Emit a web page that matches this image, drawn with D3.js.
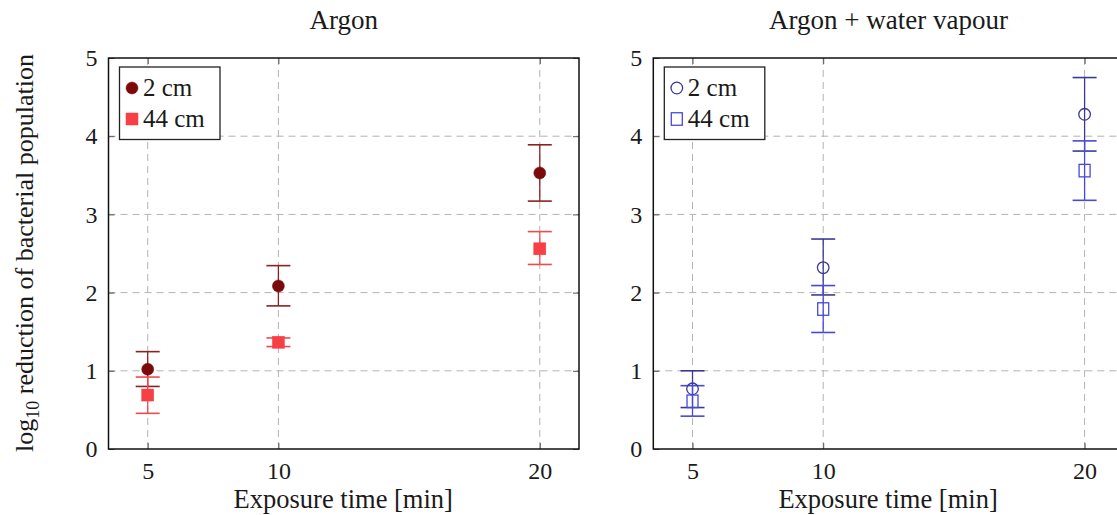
<!DOCTYPE html>
<html>
<head>
<meta charset="utf-8">
<script src="https://cdn.jsdelivr.net/npm/d3@7"></script>
<style>
  html, body { margin: 0; padding: 0; background: #fff; }
  svg { display: block; }
  text { font-family: "Liberation Serif", "DejaVu Serif", serif; fill: #1a1a1a; }
</style>
</head>
<body>
<svg id="chart" width="1117" height="515"></svg>
<script>
// ---- data ----
const times = [5, 10, 20];
const xTicks = [5, 10, 20];
const yTicks = [0, 1, 2, 3, 4, 5];
const panelTitles = ["Argon", "Argon + water vapour"];
const seriesNames = ["2 cm", "44 cm"];

const argon2cm     = [1.02, 2.085, 3.53];
const argon2cmLo   = [0.80, 1.83, 3.17];
const argon2cmHi   = [1.245, 2.345, 3.89];
const argon44cm    = [0.69, 1.365, 2.56];
const argon44cmLo  = [0.456, 1.31, 2.36];
const argon44cmHi  = [0.92, 1.42, 2.78];

const vapour2cm    = [0.77, 2.32, 4.28];
const vapour2cmLo  = [0.53, 1.97, 3.81];
const vapour2cmHi  = [1.0, 2.685, 4.75];
const vapour44cm   = [0.61, 1.79, 3.56];
const vapour44cmLo = [0.42, 1.49, 3.18];
const vapour44cmHi = [0.81, 2.09, 3.94];

// ---- layout ----
const svg = d3.select("#chart");
const plotW = 470.5, plotTop = 58, plotBottom = 449;
const panels = [
  { left: 108.5, title: panelTitles[0], filled: true,
    series: [
      { name: seriesNames[0], v: argon2cm, lo: argon2cmLo, hi: argon2cmHi, color: "#7d0a0a", bar: "#8a2222", shape: "circle" },
      { name: seriesNames[1], v: argon44cm, lo: argon44cmLo, hi: argon44cmHi, color: "#f64045", bar: "#f04a4e", shape: "square" }
    ] },
  { left: 653.3, title: panelTitles[1], filled: false,
    series: [
      { name: seriesNames[0], v: vapour2cm, lo: vapour2cmLo, hi: vapour2cmHi, color: "#3a3a96", bar: "#3a3a96", shape: "circle" },
      { name: seriesNames[1], v: vapour44cm, lo: vapour44cmLo, hi: vapour44cmHi, color: "#4848dc", bar: "#4848dc", shape: "square" }
    ] }
];

function drawMarker(sel, s, filled, cx, cy) {
  if (s.shape === "circle") {
    sel.append("circle").attr("cx", cx).attr("cy", cy).attr("r", filled ? 6 : 5.8)
      .attr("fill", filled ? s.color : "none").attr("stroke", s.color).attr("stroke-width", filled ? 0.5 : 1.3);
  } else {
    const w = filled ? 12 : 11, h = filled ? 12 : 12.5;
    sel.append("rect").attr("x", cx - w / 2).attr("y", cy - h / 2).attr("width", w).attr("height", h)
      .attr("fill", filled ? s.color : "none").attr("stroke", s.color).attr("stroke-width", filled ? 0.5 : 1.3);
  }
}

panels.forEach(p => {
  const x = d3.scaleLinear().domain([3.5, 21.5]).range([p.left, p.left + plotW]);
  const y = d3.scaleLinear().domain([0, 5]).range([plotBottom, plotTop]);
  const g = svg.append("g");

  // grid
  g.append("g").selectAll("line").data(xTicks).join("line")
    .attr("x1", d => x(d)).attr("x2", d => x(d)).attr("y1", plotTop).attr("y2", plotBottom)
    .attr("stroke", "#b3b3b3").attr("stroke-width", 1).attr("stroke-dasharray", "7,5");
  g.append("g").selectAll("line").data(yTicks.slice(1, -1)).join("line")
    .attr("x1", p.left).attr("x2", p.left + plotW).attr("y1", d => y(d)).attr("y2", d => y(d))
    .attr("stroke", "#b3b3b3").attr("stroke-width", 1).attr("stroke-dasharray", "7,5");

  // axes (ticks inside, labels outside)
  const axL = d3.axisLeft(y).tickValues(yTicks).tickSize(-6).tickPadding(11).tickFormat(d3.format("d"));
  const axB = d3.axisBottom(x).tickValues(xTicks).tickSize(-6).tickPadding(13).tickFormat(d3.format("d"));
  const axR = d3.axisRight(y).tickValues(yTicks).tickSize(-6).tickFormat("");
  const axT = d3.axisTop(x).tickValues(xTicks).tickSize(-6).tickFormat("");
  [[axL, `translate(${p.left},0)`], [axB, `translate(0,${plotBottom})`],
   [axR, `translate(${p.left + plotW},0)`], [axT, `translate(0,${plotTop})`]].forEach(([ax, tr]) => {
    const a = g.append("g").attr("transform", tr).call(ax);
    a.select(".domain").remove();
    a.selectAll(".tick line").attr("stroke", "#555").attr("stroke-width", 1);
    a.selectAll(".tick text").style("font-family", '"Liberation Serif", serif')
      .style("font-size", "24px").attr("fill", "#1a1a1a");
  });

  // error bars
  p.series.forEach(s => {
    const eg = g.append("g");
    times.forEach((t, i) => {
      const cx = x(t);
      eg.append("line").attr("x1", cx).attr("x2", cx).attr("y1", y(s.lo[i])).attr("y2", y(s.hi[i]))
        .attr("stroke", s.bar).attr("stroke-width", 1.3);
      [s.lo[i], s.hi[i]].forEach(v => {
        eg.append("line").attr("x1", cx - 12).attr("x2", cx + 12).attr("y1", y(v)).attr("y2", y(v))
          .attr("stroke", s.bar).attr("stroke-width", 1.6);
      });
    });
  });
  // markers
  p.series.forEach(s => {
    const mg = g.append("g");
    times.forEach((t, i) => drawMarker(mg, s, p.filled, x(t), y(s.v[i])));
  });

  // frame
  g.append("rect").attr("x", p.left).attr("y", plotTop).attr("width", plotW).attr("height", plotBottom - plotTop)
    .attr("fill", "none").attr("stroke", "#111").attr("stroke-width", 1.5);

  // title
  g.append("text").attr("x", p.left + plotW / 2).attr("y", 29).attr("text-anchor", "middle")
    .style("font-size", "27px").text(p.title);

  // x label
  g.append("text").attr("x", p.left + plotW / 2 - 0.5).attr("y", 508).attr("text-anchor", "middle")
    .style("font-size", "26.5px").text("Exposure time [min]");

  // legend
  const lx = p.left + 11, ly = 67;
  const lg = g.append("g");
  lg.append("rect").attr("x", lx).attr("y", ly).attr("width", 100.5).attr("height", 72.5)
    .attr("fill", "#fff").attr("stroke", "#222").attr("stroke-width", 1.3);
  p.series.forEach((s, k) => {
    const yy = ly + 21 + k * 31;
    drawMarker(lg, s, p.filled, lx + 12.5, yy);
    lg.append("text").attr("x", lx + 23.5).attr("y", yy + 8).style("font-size", "25px").text(s.name);
  });
});

// y label
const yl = svg.append("text").attr("transform", "translate(33,253) rotate(-90)")
  .attr("text-anchor", "middle").style("font-size", "26px");
yl.append("tspan").text("log");
yl.append("tspan").attr("dy", 6).style("font-size", "18px").text("10");
yl.append("tspan").attr("dy", -6).text(" reduction of bacterial population");
</script>
</body>
</html>
